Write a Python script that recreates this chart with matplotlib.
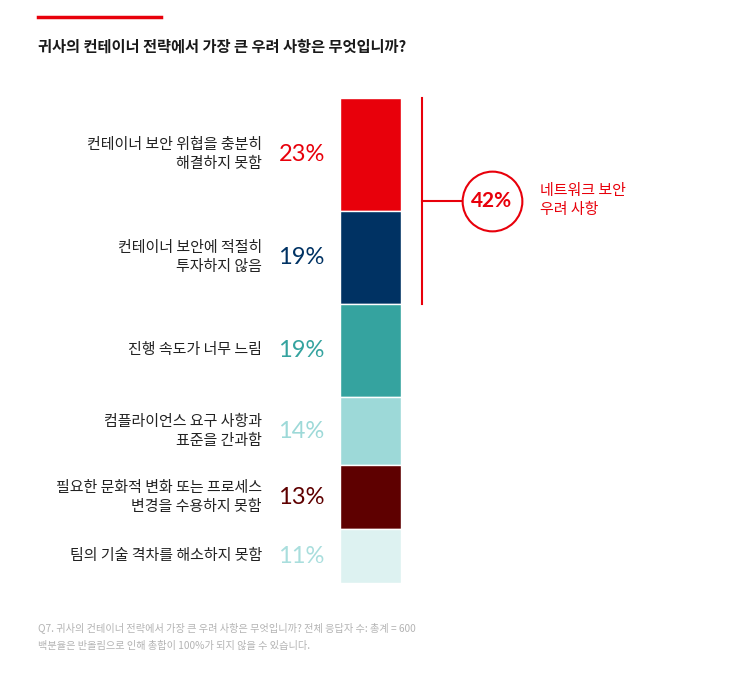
import numpy as np
import matplotlib
matplotlib.use("Agg")
import matplotlib.pyplot as plt
from matplotlib.transforms import blended_transform_factory

plt.rcParams["font.family"] = ["Noto Sans CJK KR", "DejaVu Sans"]

TITLE = "귀사의 컨테이너 전략에서 가장 큰 우려 사항은 무엇입니까?"
LABELS = [
    "컨테이너 보안 위협을 충분히\n해결하지 못함",
    "컨테이너 보안에 적절히\n투자하지 않음",
    "진행 속도가 너무 느림",
    "컴플라이언스 요구 사항과\n표준을 간과함",
    "필요한 문화적 변화 또는 프로세스\n변경을 수용하지 못함",
    "팀의 기술 격차를 해소하지 못함",
]
VALUES = [23, 19, 19, 14, 13, 11]
BAR_COLORS = ["#e8000b", "#003263", "#35a39f", "#9dd9d8", "#5e0000", "#ddf2f1"]
TEXT_COLORS = ["#e8000b", "#003263", "#35a39f", "#9dd9d8", "#5e0000", "#a9dedd"]
BRACKET_VALUE = 42
BRACKET_LABEL = "네트워크 보안\n우려 사항"
FOOTNOTE = [
    "Q7. 귀사의 컨테이너 전략에서 가장 큰 우려 사항은 무엇입니까? 전체 응답자 수: 총계 = 600",
    "백분율은 반올림으로 인해 총합이 100%가 되지 않을 수 있습니다.",
]

W, H = 730, 687
RED = "#e8000b"

fig = plt.figure(figsize=(W / 100, H / 100), dpi=100)

# top accent line + title
fig.add_artist(plt.Line2D([38 / W, 161 / W], [1 - 17 / H, 1 - 17 / H], color=RED, lw=2.5))
fig.text(38 / W, 1 - 47 / H, TITLE, fontsize=11, fontweight="bold", color="#1a1a1a", va="center")

# stacked bar
ax = fig.add_axes([340 / W, 1 - 583 / H, 61 / W, 485 / H])
total = sum(VALUES)
bottoms = np.concatenate([[0], np.cumsum(VALUES)[:-1]])
ax.bar(0.5, VALUES, bottom=bottoms, width=1, color=BAR_COLORS, edgecolor="white", linewidth=1)
ax.set_xlim(0, 1)
ax.set_ylim(total, 0)
ax.axis("off")

tr = blended_transform_factory(ax.transAxes, ax.transData)
for lab, v, b, c in zip(LABELS, VALUES, bottoms, TEXT_COLORS):
    mid = b + v / 2
    ax.text(-1.28, mid, lab, transform=tr, ha="right", va="center", fontsize=10.8,
            color="#222222", fontweight="medium", linespacing=1.45, clip_on=False)
    ax.text(-0.25, mid, f"{v}%", transform=tr, ha="right", va="center", fontsize=17,
            color=c, family=["Lato", "DejaVu Sans"], clip_on=False)

# bracket for network security concerns
bx = 1.345
ax.plot([bx, bx], [0, BRACKET_VALUE], transform=tr, color=RED, lw=1.5, clip_on=False)
ax.plot([bx, 1.98], [BRACKET_VALUE / 2, BRACKET_VALUE / 2], transform=tr, color=RED, lw=1.5, clip_on=False)
ax.plot([2.49], [BRACKET_VALUE / 2], transform=tr, marker="o", markersize=43, markerfacecolor="white",
        markeredgecolor=RED, markeredgewidth=1.5, clip_on=False)
ax.text(2.49, BRACKET_VALUE / 2, f"{BRACKET_VALUE}%", transform=tr, ha="center", va="center",
        fontsize=15, fontweight="bold", color=RED, family=["Lato", "DejaVu Sans"], clip_on=False)
ax.text(3.28, BRACKET_VALUE / 2, BRACKET_LABEL, transform=tr, ha="left", va="center", fontsize=10.8,
        color=RED, fontweight="medium", linespacing=1.45, clip_on=False)

# footnote
for i, line in enumerate(FOOTNOTE):
    fig.text(38 / W, 1 - (628 + 18 * i) / H, line, fontsize=7.3, color="#b3b3b3", va="center")

fig.savefig("out.png", dpi=100, facecolor="white")
